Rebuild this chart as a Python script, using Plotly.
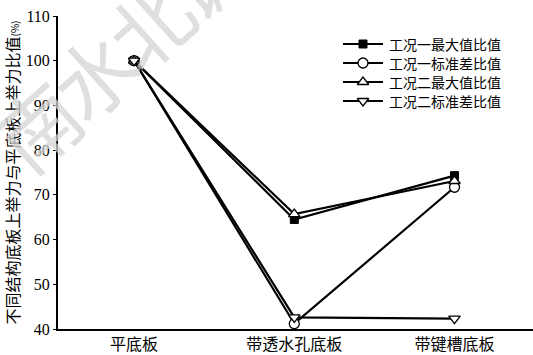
import plotly.graph_objects as go

# Plate types compared against the flat plate
categories = ["平底板", "带透水孔底板", "带键槽底板"]

# Ratio of uplift force to that of the flat plate (%)
case1_max = [100, 64.5, 74.3]
case1_std = [100, 41.2, 71.7]
case2_max = [100, 65.7, 73.1]
case2_std = [100, 42.6, 42.3]

series_names = ["工况一最大值比值", "工况一标准差比值", "工况二最大值比值", "工况二标准差比值"]
y_ticks = [40, 50, 60, 70, 80, 90, 100, 110]
watermark = "南水北调"

cjk = "Noto Sans CJK SC"
serif = "Liberation Serif"

W, H = 533, 355
M_L, M_R, M_T, M_B = 58, 0, 16, 26
PW, PH = W - M_L - M_R, H - M_T - M_B


def px_to_paper(px, py):
    return (px - M_L) / PW, (H - M_B - py) / PH


marker_styles = [
    dict(symbol="square", size=8, color="black", line=dict(color="black", width=1)),
    dict(symbol="circle", size=10, color="white", line=dict(color="black", width=1.3)),
    dict(symbol="triangle-up", size=10, color="white", line=dict(color="black", width=1.3)),
    dict(symbol="triangle-down", size=10, color="white", line=dict(color="black", width=1.3)),
]

fig = go.Figure()
for name, vals, mk in zip(series_names, [case1_max, case1_std, case2_max, case2_std], marker_styles):
    fig.add_trace(go.Scatter(
        x=list(range(len(categories))), y=vals, name=name,
        mode="lines+markers",
        line=dict(color="black", width=2.2),
        marker=mk, showlegend=False,
    ))

# Legend key drawn on an overlay axis measured in pixels of the plot area
LEG_X0, LEG_X1, LEG_TOP, LEG_GAP = 343, 383, 44, 19
for i, (name, mk) in enumerate(zip(series_names, marker_styles)):
    ry = LEG_TOP + i * LEG_GAP
    fig.add_trace(go.Scatter(
        x=[LEG_X0, LEG_X1], y=[ry, ry],
        mode="lines", line=dict(color="black", width=2),
        xaxis="x2", yaxis="y2", showlegend=False, hoverinfo="skip",
    ))
    fig.add_trace(go.Scatter(
        x=[(LEG_X0 + LEG_X1) / 2], y=[ry], mode="markers", marker=mk,
        xaxis="x2", yaxis="y2", showlegend=False, hoverinfo="skip",
    ))
    fig.add_annotation(
        text=name, xref="x2", yref="y2", x=LEG_X1 + 5, y=ry,
        xanchor="left", yanchor="middle", showarrow=False, borderpad=0,
        font=dict(family=cjk, size=14, color="black"),
    )

# Faint watermark across the upper left, one glyph at a time
WM_X0, WM_Y0, WM_DX, WM_DY = 36, 124, 56, -51
for i, ch in enumerate(watermark):
    wx, wy = px_to_paper(WM_X0 + i * WM_DX, WM_Y0 + i * WM_DY)
    fig.add_annotation(
        text=ch, xref="paper", yref="paper", x=wx, y=wy,
        xanchor="center", yanchor="middle", showarrow=False, textangle=-42,
        font=dict(family=cjk, size=82, color="rgba(212,212,212,0.75)"),
    )

fig.update_layout(
    width=W, height=H,
    margin=dict(l=M_L, r=M_R, t=M_T, b=M_B),
    paper_bgcolor="white", plot_bgcolor="white",
    showlegend=False,
    xaxis=dict(
        range=[-0.475, 2.49],
        tickmode="array", tickvals=list(range(len(categories))), ticktext=categories,
        showline=True, linecolor="black", linewidth=2,
        showgrid=False, zeroline=False, ticks="",
        tickfont=dict(family=cjk, size=16, color="black"),
    ),
    yaxis=dict(
        range=[40, 110], tickvals=y_ticks,
        showline=True, linecolor="black", linewidth=2,
        showgrid=False, zeroline=False,
        ticks="outside", ticklen=3, tickcolor="black",
        tickfont=dict(family=serif, size=16, color="black"),
        title=dict(
            text="不同结构底板上举力与平底板上举力比值<span style='font-size:10px'>(%)</span>",
            font=dict(family=cjk, size=16, color="black"), standoff=4,
        ),
    ),
    xaxis2=dict(range=[M_L, W - M_R], overlaying="x", visible=False, fixedrange=True),
    yaxis2=dict(range=[H - M_B, M_T], overlaying="y", visible=False, fixedrange=True),
)

fig.write_html("out.html")
